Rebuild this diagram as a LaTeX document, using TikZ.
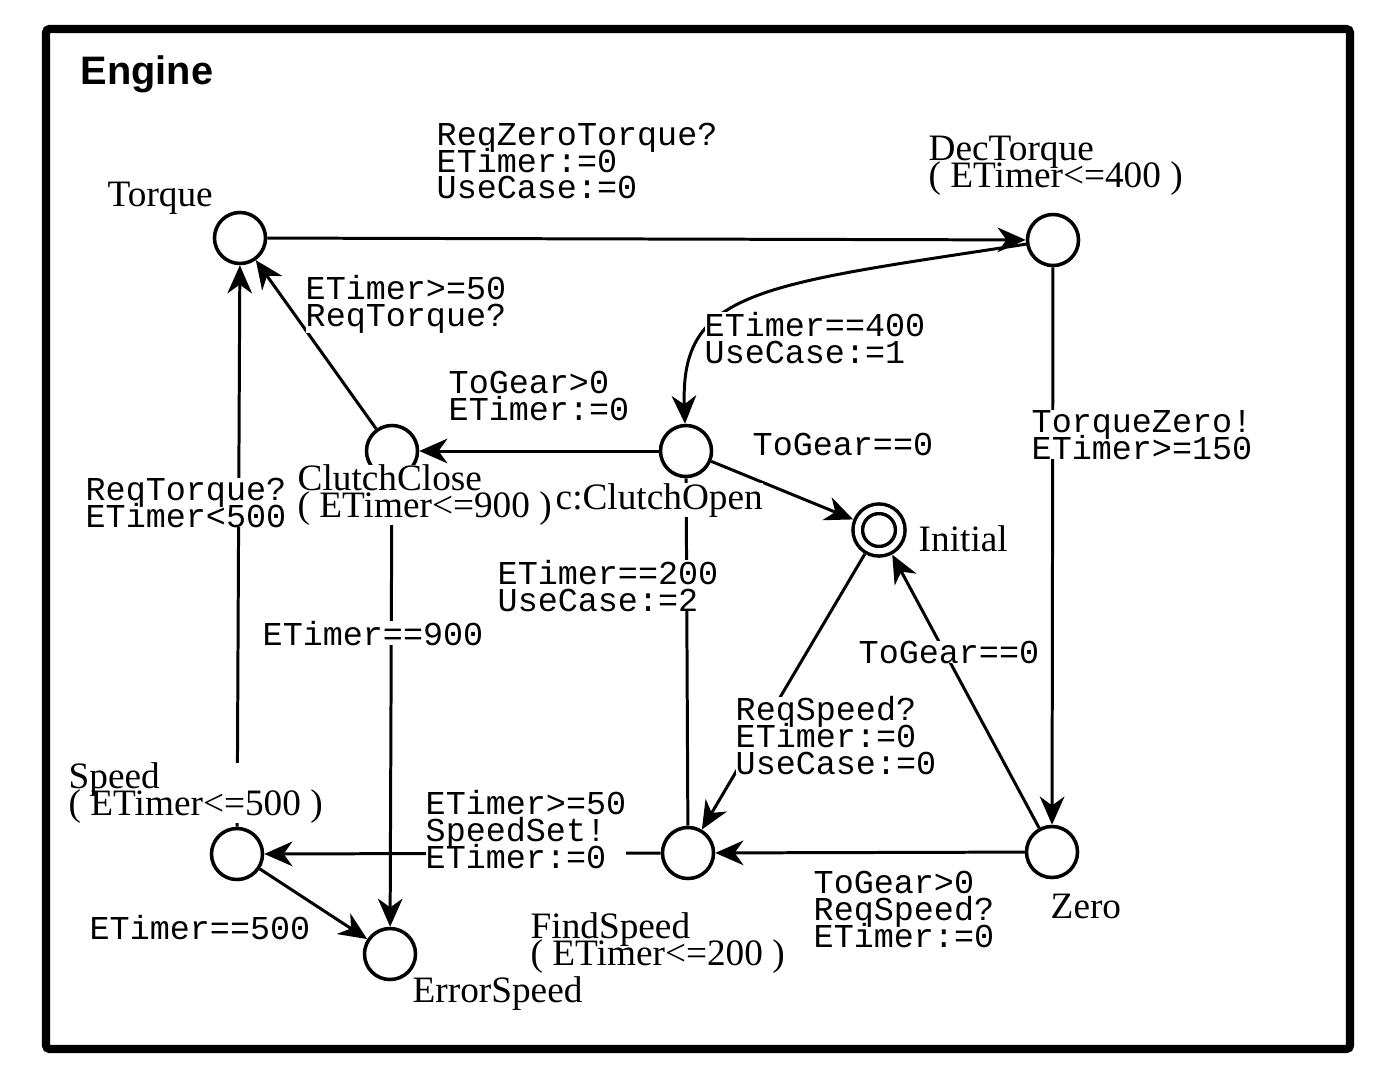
\documentclass[tikz,border=0pt]{standalone}
\usepackage{fontspec}
\setmainfont{Liberation Serif}
\setsansfont{Liberation Sans}
\setmonofont{Liberation Mono}
\usepackage{tikz}
\usetikzlibrary{arrows.meta}
\newcommand\tightlines{\lineskiplimit-20pt\relax}

\begin{document}
\begin{tikzpicture}[x=0.01cm,y=-0.01cm,>={Stealth[length=8pt,width=7pt,inset=2.5pt]},
  locstate/.style={circle,draw,line width=1pt,minimum size=0.51cm,inner sep=0pt},
  locname/.style={font=\fontsize{10.6}{7.5}\selectfont\tightlines,anchor=base west,align=left,fill=white,inner sep=0pt},
  guard/.style={font=\ttfamily\fontsize{9.5}{7.55}\selectfont\tightlines,anchor=base west,align=left,fill=white,inner sep=0pt},
  trans/.style={->,line width=0.85pt}]
  \useasboundingbox (0,0) rectangle (1398,1076);
  \draw[line width=2.3pt,rounded corners=1pt] (46,29) rectangle (1350,1049);
  \node[font=\sffamily\bfseries\fontsize{11.3}{13}\selectfont,anchor=base west,inner sep=0pt] (title) at (80,84) {Engine};

  % locations
  \node[locstate] (torque) at (240,238) {};
  \node[locstate] (dectorque) at (1053,240) {};
  \node[locstate] (clutchclose) at (392,451) {};
  \node[locstate] (clutchopen) at (686,451) {};
  \node[locstate,double,double distance=1.7pt,minimum size=0.425cm,outer sep=1.9pt] (initial) at (879,530) {};
  \node[locstate] (speed) at (237,854) {};
  \node[locstate] (errorspeed) at (390,954) {};
  \node[locstate] (findspeed) at (688,853) {};
  \node[locstate] (zero) at (1052,852) {};

  % transitions
  \draw[trans] (torque) -- (dectorque);
  \draw[trans] (dectorque) .. controls (760,285) and (680,290) .. (clutchopen);
  \draw[trans] (clutchopen) -- (clutchclose);
  \draw[trans] (clutchclose) -- (torque);
  \draw[trans] (clutchopen) -- (initial);
  \draw[line width=0.85pt] (clutchopen) -- (findspeed);
  \draw[trans] (dectorque) -- (zero);
  \draw[trans] (zero) -- (initial);
  \draw[trans] (initial) -- (findspeed);
  \draw[trans] (zero) -- (findspeed);
  \draw[trans] (findspeed) -- (speed);
  \draw[trans] (speed) -- (torque);
  \draw[trans] (speed) -- (errorspeed);
  \draw[trans] (clutchclose) -- (errorspeed);

  % names and invariants (placed at the baseline of the last line)
  \node[locname] (torquename) at (107,206) {Torque};
  \node[locname] (dectorquename) at (928,187) {DecTorque\\( ETimer<=400 )};
  \node[locname] (clutchclosename) at (297,517) {ClutchClose\\( ETimer<=900 )};
  \node[locname] (clutchopenname) at (555,509) {c:ClutchOpen};
  \node[locname] (initialname) at (918,551) {Initial};
  \node[locname] (speedname) at (68,815) {Speed\\( ETimer<=500 )};
  \node[locname] (findspeedname) at (530,965) {FindSpeed\\( ETimer<=200 )};
  \node[locname] (zeroname) at (1050,918) {Zero};
  \node[locname] (errorspeedname) at (412,1002) {ErrorSpeed};

  % guards, syncs and updates
  \node[guard] (g1) at (436,199) {ReqZeroTorque?\\ETimer:=0\\UseCase:=0};
  \node[guard] (g2) at (305,326) {ETimer>=50\\ReqTorque?};
  \node[guard] (g3) at (704,363) {ETimer==400\\UseCase:=1};
  \node[guard] (g4) at (448,420) {ToGear>0\\ETimer:=0};
  \node[guard] (g5) at (752,455) {ToGear==0};
  \node[guard] (g6) at (1031,459) {TorqueZero!\\ETimer>=150};
  \node[guard] (g7) at (85,527) {ReqTorque?\\ETimer<500};
  \node[guard] (g8) at (497,611) {ETimer==200\\UseCase:=2};
  \node[guard] (g9) at (262,645) {ETimer==900};
  \node[guard] (g10) at (858,663) {ToGear==0};
  \node[guard] (g11) at (735,774) {ReqSpeed?\\ETimer:=0\\UseCase:=0};
  \node[guard] (g12) at (425,868) {ETimer>=50\\SpeedSet!\\ETimer:=0};
  \node[guard] (g13) at (813,947) {ToGear>0\\ReqSpeed?\\ETimer:=0};
  \node[guard] (g14) at (89,939) {ETimer==500};
\end{tikzpicture}
\end{document}
